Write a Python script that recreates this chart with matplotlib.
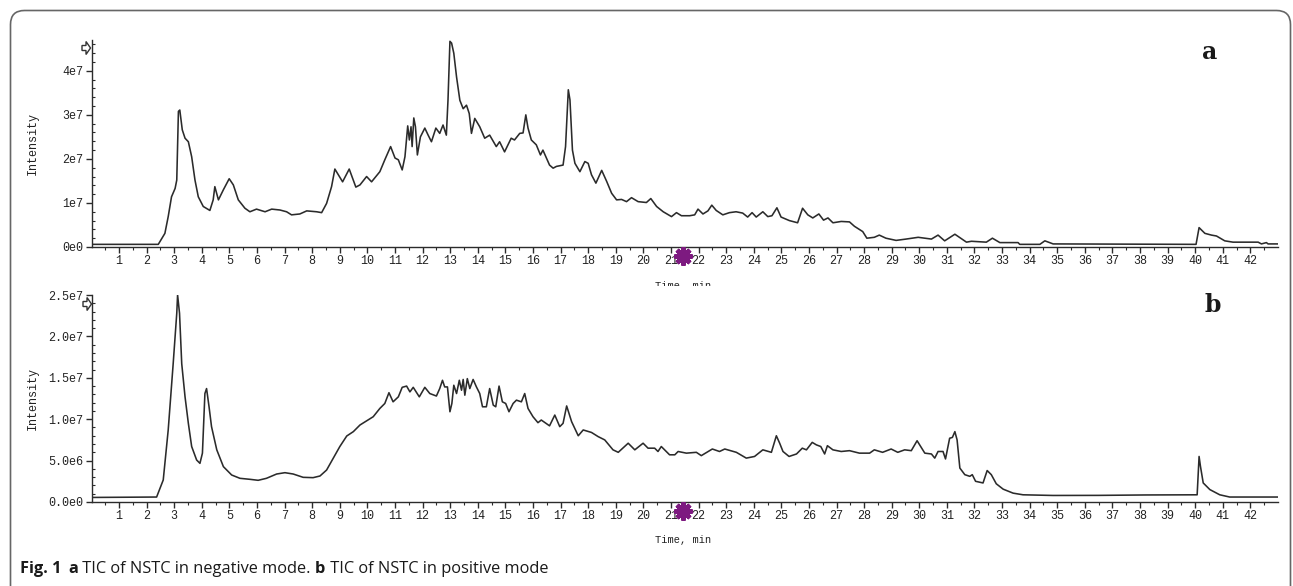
import matplotlib
matplotlib.use("Agg")
import matplotlib.pyplot as plt
from matplotlib.patches import FancyBboxPatch, Polygon
from matplotlib.transforms import IdentityTransform, Bbox, blended_transform_factory

## Data
# a: negative mode, intensity in units of 1e7
neg_time = [0.0, 2.42, 2.66, 2.78, 2.90, 3.03, 3.09, 3.15, 3.20, 3.29, 3.39, 3.51, 3.63, 3.75, 3.87,
            4.05, 4.29, 4.41, 4.47, 4.60, 4.78, 4.99, 5.14, 5.32, 5.56, 5.74, 5.98, 6.29, 6.53, 6.83,
            7.07, 7.25, 7.55, 7.80, 8.16, 8.34, 8.52, 8.70, 8.82, 9.10, 9.34, 9.58, 9.73, 9.97, 10.15,
            10.45, 10.63, 10.84, 11.00, 11.12, 11.26, 11.36, 11.46, 11.52, 11.58, 11.62, 11.68, 11.74,
            11.81, 11.92, 12.08, 12.20, 12.32, 12.48, 12.62, 12.74, 12.86, 12.92, 12.99, 13.05, 13.13,
            13.23, 13.35, 13.47, 13.59, 13.69, 13.77, 13.89, 14.07, 14.25, 14.43, 14.67, 14.79, 14.97,
            15.21, 15.33, 15.52, 15.64, 15.74, 15.82, 15.94, 16.12, 16.27, 16.36, 16.60, 16.73, 16.85,
            17.09, 17.18, 17.28, 17.34, 17.43, 17.52, 17.70, 17.88, 18.00, 18.12, 18.28, 18.49, 18.67,
            18.85, 19.03, 19.21, 19.39, 19.57, 19.81, 20.11, 20.27, 20.48, 20.72, 21.02, 21.20, 21.38,
            21.68, 21.86, 21.98, 22.16, 22.34, 22.48, 22.64, 22.88, 23.12, 23.36, 23.60, 23.78, 23.94,
            24.09, 24.33, 24.51, 24.66, 24.84, 24.99, 25.29, 25.59, 25.77, 25.96, 26.14, 26.36, 26.53,
            26.69, 26.87, 27.17, 27.47, 27.65, 27.95, 28.10, 28.37, 28.55, 28.79, 29.16, 29.52, 29.96,
            30.20, 30.44, 30.68, 30.92, 31.29, 31.71, 31.89, 32.43, 32.65, 32.92, 33.58, 33.64, 34.37,
            34.55, 34.85, 40.03, 40.14, 40.35, 40.59, 40.77, 41.07, 41.37, 42.28, 42.40, 42.58, 42.64,
            43.0]
neg_int = [0.06, 0.06, 0.31, 0.69, 1.14, 1.33, 1.52, 3.08, 3.11, 2.66, 2.47, 2.39, 2.05, 1.52, 1.14,
           0.92, 0.83, 1.07, 1.37, 1.07, 1.30, 1.55, 1.41, 1.07, 0.88, 0.80, 0.86, 0.80, 0.86, 0.84,
           0.80, 0.73, 0.75, 0.82, 0.80, 0.78, 0.99, 1.37, 1.77, 1.48, 1.77, 1.36, 1.41, 1.60, 1.48,
           1.71, 1.98, 2.28, 2.02, 1.98, 1.75, 2.05, 2.75, 2.43, 2.73, 2.28, 2.93, 2.73,
           2.09, 2.50, 2.70, 2.54, 2.39, 2.70, 2.58, 2.77, 2.54, 3.34, 4.67, 4.63, 4.40,
           3.86, 3.33, 3.14, 3.22, 3.03, 2.58, 2.92, 2.73, 2.47, 2.54, 2.28, 2.39, 2.16,
           2.47, 2.43, 2.58, 2.59, 3.00, 2.70, 2.43, 2.32, 2.09, 2.20, 1.86, 1.79, 1.83,
           1.86, 2.28, 3.57, 3.34, 2.20, 1.90, 1.71, 1.94, 1.90, 1.64, 1.45, 1.74, 1.49,
           1.22, 1.07, 1.08, 1.03, 1.12, 1.03, 1.01, 1.10, 0.92, 0.80, 0.69, 0.78, 0.71,
           0.71, 0.73, 0.86, 0.75, 0.82, 0.95, 0.83, 0.73, 0.78, 0.80, 0.77, 0.68, 0.78,
           0.68, 0.80, 0.69, 0.71, 0.89, 0.68, 0.60, 0.55, 0.88, 0.73, 0.66, 0.75, 0.61,
           0.66, 0.55, 0.58, 0.57, 0.47, 0.35, 0.20, 0.22, 0.27, 0.20, 0.15, 0.18, 0.22,
           0.20, 0.18, 0.27, 0.14, 0.29, 0.11, 0.13, 0.11, 0.20, 0.10, 0.10, 0.06, 0.06,
           0.14, 0.07, 0.06, 0.44, 0.31, 0.27, 0.25, 0.14, 0.11, 0.11, 0.07, 0.10, 0.07,
           0.07]

# b: positive mode, intensity in units of 1e6
pos_time = [0.0, 2.36, 2.60, 2.78, 2.96, 3.09, 3.12, 3.19, 3.27, 3.39, 3.51, 3.63, 3.81, 3.93, 4.02,
            4.11, 4.17, 4.26, 4.35, 4.54, 4.78, 5.08, 5.38, 5.74, 6.04, 6.34, 6.71, 7.01, 7.31, 7.67,
            8.03, 8.28, 8.52, 8.76, 9.00, 9.25, 9.49, 9.73, 9.97, 10.21, 10.45, 10.63, 10.78, 10.93,
            11.12, 11.26, 11.42, 11.54, 11.66, 11.88, 12.08, 12.26, 12.50, 12.62, 12.72, 12.80, 12.90,
            12.99, 13.06, 13.13, 13.23, 13.33, 13.41, 13.47, 13.53, 13.62, 13.71, 13.83, 13.95, 14.07,
            14.17, 14.31, 14.43, 14.56, 14.65, 14.77, 14.89, 15.01, 15.13, 15.28, 15.40, 15.58, 15.70,
            15.82, 16.00, 16.18, 16.30, 16.60, 16.79, 16.97, 17.09, 17.22, 17.40, 17.64, 17.82, 18.12,
            18.36, 18.60, 18.90, 19.09, 19.45, 19.69, 19.99, 20.17, 20.41, 20.53, 20.65, 20.95, 21.14,
            21.26, 21.56, 21.92, 22.10, 22.50, 22.76, 22.95, 23.37, 23.73, 24.03, 24.33, 24.64, 24.82,
            24.94, 25.06, 25.28, 25.55, 25.76, 25.91, 26.12, 26.27, 26.43, 26.57, 26.67, 26.87, 27.17,
            27.47, 27.83, 28.20, 28.37, 28.67, 28.98, 29.22, 29.47, 29.71, 29.92, 30.20, 30.44, 30.56,
            30.68, 30.86, 30.95, 31.10, 31.20, 31.29, 31.37, 31.47, 31.65, 31.83, 31.92, 32.04, 32.31,
            32.46, 32.61, 32.79, 33.04, 33.40, 33.76, 34.85, 36.5, 38.2, 39.91, 40.07, 40.14, 40.19,
            40.29, 40.53, 40.89, 41.25, 43.0]
pos_int = [0.55, 0.6, 2.66, 8.7, 16.7, 22.8, 25.0, 22.8, 16.7, 12.7, 9.5, 6.7, 5.07, 4.67, 5.9,
           13.1, 13.7, 11.5, 9.1, 6.3, 4.27, 3.26, 2.86, 2.74, 2.62, 2.86, 3.38, 3.54, 3.38, 2.98,
           2.94, 3.14, 3.86, 5.27, 6.7, 7.97, 8.5, 9.3, 9.8, 10.3, 11.3, 11.9, 13.2, 12.1,
           12.7, 13.85, 14.0, 13.3, 13.85, 12.7, 13.85, 13.1, 12.8, 13.7, 14.7, 13.9, 13.9,
           10.9, 11.9, 14.1, 13.1, 14.7, 13.5, 14.8, 12.9, 14.9, 13.7, 14.8, 13.9, 13.1,
           11.5, 11.5, 13.7, 11.7, 11.5, 14.0, 12.1, 11.9, 10.9, 11.9, 12.3, 12.1, 13.1,
           11.3, 10.3, 9.58, 9.9, 9.2, 10.5, 9.1, 9.5, 11.6, 9.7, 8.0, 8.7, 8.4,
           7.9, 7.5, 6.3, 6.0, 7.1, 6.3, 7.1, 6.5, 6.5, 6.1, 6.7, 5.7, 5.7,
           6.1, 5.9, 6.0, 5.6, 6.4, 6.1, 6.4, 6.0, 5.3, 5.5, 6.3, 6.0, 8.0,
           7.1, 6.1, 5.5, 5.8, 6.5, 6.3, 7.2, 6.9, 6.7, 5.8, 6.8, 6.3, 6.1,
           6.2, 5.9, 5.9, 6.3, 6.0, 6.4, 6.0, 6.3, 6.2, 7.4, 5.9, 5.8, 5.3,
           6.1, 6.1, 5.2, 7.7, 7.8, 8.5, 7.5, 4.1, 3.3, 3.1, 3.3, 2.5, 2.3,
           3.8, 3.3, 2.2, 1.55, 1.07, 0.87, 0.79, 0.80, 0.85, 0.87, 0.87, 5.5, 4.3,
           2.3, 1.5, 0.87, 0.6, 0.6]

neg_yticks = [0, 1e7, 2e7, 3e7, 4e7]
neg_yticklabels = ["0e0", "1e7", "2e7", "3e7", "4e7"]
pos_yticks = [0, 5e6, 1e7, 1.5e7, 2e7, 2.5e7]
pos_yticklabels = ["0.0e0", "5.0e6", "1.0e7", "1.5e7", "2.0e7", "2.5e7"]
xticks = list(range(1, 43))
cursor_time = 21.43

MONO = "Liberation Mono"
INK = "#2b2b2b"

W, H = 1293, 586
fig = plt.figure(figsize=(W / 100, H / 100), dpi=100)
fig.patch.set_facecolor("white")


def px(x0, y0, x1, y1):
    # pixel box (top-left origin) -> figure fraction rect
    return [x0 / W, 1 - y1 / H, (x1 - x0) / W, (y1 - y0) / H]


def style_axis(ax, yticks, ylabels, ytop, minor_step):
    ax.set_xlim(0, 43)
    ax.set_ylim(0, ytop)
    for s in ("top", "right"):
        ax.spines[s].set_visible(False)
    for s in ("left", "bottom"):
        ax.spines[s].set_color(INK)
        ax.spines[s].set_linewidth(1.0)
    ax.set_xticks(xticks)
    ax.set_xticklabels([str(t) for t in xticks], fontsize=8.5, family=MONO)
    ax.set_xticks([t + 0.5 for t in range(0, 43)], minor=True)
    ax.set_yticks(yticks)
    ax.set_yticklabels(ylabels, fontsize=8.5, family=MONO)
    ax.set_yticks([v * minor_step for v in range(int(ytop / minor_step) + 1)], minor=True)
    ax.tick_params(axis="both", which="major", direction="out", length=4, width=1,
                   color=INK, labelcolor="#222222", pad=2)
    ax.tick_params(axis="x", which="minor", direction="out", length=2, width=0.8, color=INK)
    ax.tick_params(axis="y", which="minor", direction="in", length=2.5, width=0.8, color=INK)
    ax.set_ylabel("Intensity", family=MONO, fontsize=8.5, color="#222222")
    ax.yaxis.set_label_coords(-0.044, 0.5)
    ax.set_facecolor("none")


def arrow(cx, cy):
    # outlined block arrow at the top of the y axis (pixel coords, top-left origin)
    shape = [(-4, -2.5), (0, -2.5), (0, -6.5), (4.5, 0), (0, 6.5), (0, 2.5), (-4, 2.5)]
    pts = [(cx + dx, H - (cy + dy)) for dx, dy in shape]
    fig.add_artist(Polygon(pts, closed=True, transform=IdentityTransform(),
                           facecolor="white", edgecolor="#333333", lw=1.0, zorder=6))


## Panel a
ax1 = fig.add_axes(px(91.5, 40, 1278, 247))
ax1.plot(neg_time, [v * 1e7 for v in neg_int], color=INK, lw=1.15)
style_axis(ax1, neg_yticks, neg_yticklabels, 4.7e7, 2e6)

## Panel b
ax2 = fig.add_axes(px(91.5, 295, 1278, 502))
ax2.plot(pos_time, [v * 1e6 for v in pos_int], color=INK, lw=1.15)
style_axis(ax2, pos_yticks, pos_yticklabels, 2.5e7, 1e6)

# x labels ("Time, min"); the top one is cut off by panel b
lab_a = fig.text(683 / W, 1 - 286 / H, "Time, min", family=MONO, fontsize=7.5,
                 ha="center", va="center", color="#222222")
lab_a.set_clip_box(Bbox.from_extents(0, H - 286, W, H))
lab_a.set_clip_on(True)
fig.text(683 / W, 1 - 540 / H, "Time, min", family=MONO, fontsize=7.5,
         ha="center", va="center", color="#222222")

# purple cursor markers
for ax in (ax1, ax2):
    tr = blended_transform_factory(ax.transData, ax.transAxes)
    ax.plot([cursor_time], [-0.045], marker=(8, 2, 0), ms=13, mew=3.2,
            color="#7d1a80", transform=tr, clip_on=False, zorder=5)

arrow(86, 48)
arrow(87, 304)

# panel letters
fig.text(1210 / W, 1 - 52 / H, "a", family="DejaVu Serif", weight="bold",
         fontsize=17, ha="center", va="center", color="#1a1a1a")
fig.text(1213 / W, 1 - 305 / H, "b", family="DejaVu Serif", weight="bold",
         fontsize=17, ha="center", va="center", color="#1a1a1a")

# rounded frame around the figure
frame = FancyBboxPatch((10.5, -30), 1280, H - 10.5 + 30,
                       boxstyle="round,pad=0,rounding_size=14",
                       transform=IdentityTransform(), facecolor="none",
                       edgecolor="#666666", lw=1.2)
fig.add_artist(frame)

# caption, built piece by piece
pieces = [("Fig. 1", "bold"), ("  ", "normal"), ("a", "bold"),
          (" TIC of NSTC in negative mode. ", "normal"), ("b", "bold"),
          (" TIC of NSTC in positive mode", "normal")]
renderer = fig.canvas.get_renderer()
x = 20
for s, w in pieces:
    t = fig.text(x / W, 1 - 573 / H, s, family="Open Sans", weight=w, fontsize=11.8,
                 ha="left", va="baseline", color="#1a1a1a")
    x = t.get_window_extent(renderer).x1 if s.strip() else x + 7

fig.savefig("out.png", dpi=100)
